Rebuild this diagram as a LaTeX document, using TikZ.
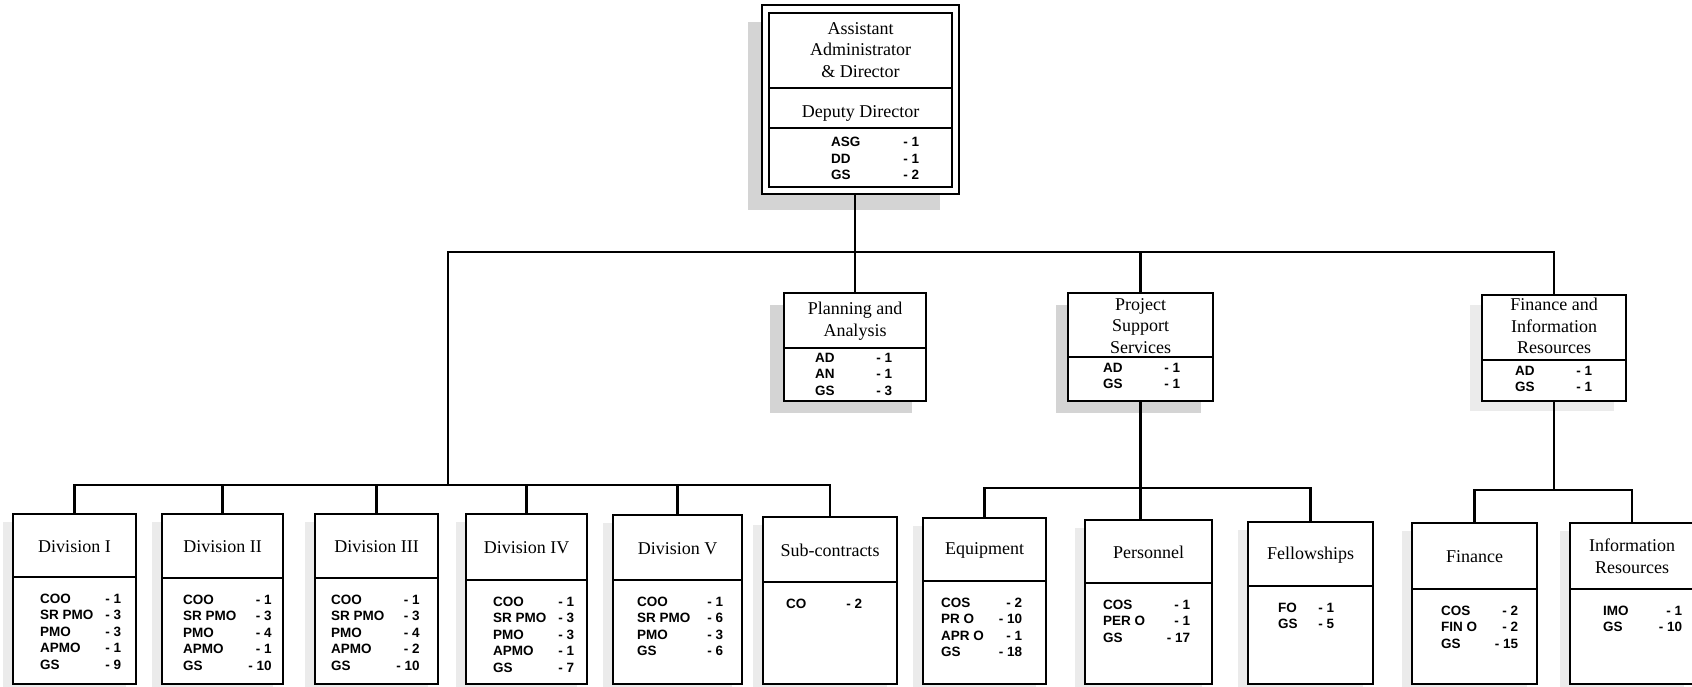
\documentclass[tikz,border=0pt]{standalone}
\usepackage{fontspec}
\setmainfont{Liberation Serif}
\newfontfamily\stafffont{Liberation Sans}
\newcommand{\stafftab}[2]{\begin{tabular*}{#1}[t]{@{\extracolsep{\fill}}lr@{}}#2\end{tabular*}}
% name x1 y1 x2 y2 dx dy shadowstyle sepy
\newcommand{\orgbox}[9]{%
  \fill[#8] ({#2+#6},{#3+#7}) rectangle ({#4+#6},{#5+#7});
  \node[box, minimum width={(#4-#2)*1pt}, minimum height={(#5-#3)*1pt}] (#1) at ({(#2+#4)/2},{(#3+#5)/2}) {};
  \draw[sepline] (#2,#9) -- (#4,#9);}
\begin{document}
\begin{tikzpicture}[x=1pt,y=-1pt,
  box/.style={draw, line width=2.6pt, fill=white, rectangle, inner sep=0pt},
  sepline/.style={line width=1.6pt},
  conn/.style={line width=2.2pt, line cap=rect},
  shadowA/.style={fill=black!17},
  shadowB/.style={fill=black!8},
  ttl/.style={font=\fontsize{18}{21.5}\selectfont, align=center, inner sep=0pt},
  stf/.style={font=\stafffont\bfseries\fontsize{13.5}{16.5}\selectfont, inner sep=0pt, anchor=base west},
]
\useasboundingbox (0,0) rectangle (1692,687);
\fill[white] (0,0) rectangle (1692,687);

% ---- top box
\fill[shadowA] (748,22) rectangle (940,210);
\node[box, minimum width=197pt, minimum height=189pt] (top) at (860.5,99.5) {};
\draw[line width=2.2pt] (769,13) rectangle (952,187);
\draw[sepline] (769,88) -- (952,88);
\draw[sepline] (769,128) -- (952,128);
\node[ttl] (toptitle) at (860.5,50) {Assistant\\Administrator\\\& Director};
\node[ttl] (deputy) at (860.5,113) {Deputy Director};
\node[stf] (topstaff) at (831,147) {\stafftab{88pt}{ASG & - 1\\ DD & - 1\\ GS & - 2}};

% ---- middle boxes
\orgbox{pa}{784}{293}{926}{401}{-14}{12}{shadowA}{348}
\orgbox{pss}{1068}{293}{1213}{401}{-12}{12}{shadowA}{357}
\orgbox{fir}{1482}{295}{1626}{401}{-12}{10}{shadowB}{360}
\node[ttl] (pat) at (855,321) {Planning and\\Analysis};
\node[ttl] (psst) at (1140.5,326) {Project\\Support\\Services};
\node[ttl] (firt) at (1554,326) {Finance and\\Information\\Resources};
\node[stf] (pas) at (815,362) {\stafftab{77pt}{AD & - 1\\ AN & - 1\\ GS & - 3}};
\node[stf] (psss) at (1103,372) {\stafftab{77pt}{AD & - 1\\ GS & - 1}};
\node[stf] (firs) at (1515,375) {\stafftab{77pt}{AD & - 1\\ GS & - 1}};

% ---- bottom boxes
\orgbox{d1}{13}{514}{136}{684}{-10}{8}{shadowB}{577}
\orgbox{d2}{162}{514}{283}{684}{-10}{8}{shadowB}{578}
\orgbox{d3}{315}{514}{438}{684}{-10}{8}{shadowB}{578}
\orgbox{d4}{466}{514}{587}{684}{-10}{8}{shadowB}{580}
\orgbox{d5}{613}{515}{742}{684}{-10}{8}{shadowB}{580}
\orgbox{sub}{763}{517}{897}{684}{-10}{8}{shadowB}{582}
\orgbox{eq}{923}{518}{1046}{684}{-10}{8}{shadowB}{581}
\orgbox{pers}{1085}{520}{1212}{684}{-10}{8}{shadowB}{583}
\orgbox{fel}{1248}{522}{1373}{684}{-10}{8}{shadowB}{586}
\orgbox{fin}{1412}{523}{1537}{684}{-10}{8}{shadowB}{589}
\orgbox{ir}{1570}{523}{1694}{684}{-10}{8}{shadowB}{589}

\node[ttl] (d1t) at (74.5,546.5) {Division I};
\node[ttl] (d2t) at (222.5,547) {Division II};
\node[ttl] (d3t) at (376.5,547) {Division III};
\node[ttl] (d4t) at (526.5,548) {Division IV};
\node[ttl] (d5t) at (677.5,548.5) {Division V};
\node[ttl] (subt) at (830,550.5) {Sub-contracts};
\node[ttl] (eqt) at (984.5,550.5) {Equipment};
\node[ttl] (perst) at (1148.5,552.5) {Personnel};
\node[ttl] (felt) at (1310.5,555) {Fellowships};
\node[ttl] (fint) at (1474.5,557) {Finance};
\node[ttl] (irt) at (1632,556) {Information\\Resources};

\node[stf] (d1s) at (40,603) {\stafftab{81pt}{COO & - 1\\ SR PMO & - 3\\ PMO & - 3\\ APMO & - 1\\ GS & - 9}};
\node[stf] (d2s) at (183,604) {\stafftab{86pt}{COO & - 1\\ SR PMO & - 3\\ PMO & - 4\\ APMO & - 1\\ GS & - 10}};
\node[stf] (d3s) at (331,604) {\stafftab{80pt}{COO & - 1\\ SR PMO & - 3\\ PMO & - 4\\ APMO & - 2\\ GS & - 10}};
\node[stf] (d4s) at (493,606) {\stafftab{80pt}{COO & - 1\\ SR PMO & - 3\\ PMO & - 3\\ APMO & - 1\\ GS & - 7}};
\node[stf] (d5s) at (637,606) {\stafftab{86pt}{COO & - 1\\ SR PMO & - 6\\ PMO & - 3\\ GS & - 6}};
\node[stf] (subs) at (786,608) {\stafftab{76pt}{CO & - 2}};
\node[stf] (eqs) at (941,607) {\stafftab{81pt}{COS & - 2\\ PR O & - 10\\ APR O & - 1\\ GS & - 18}};
\node[stf] (perss) at (1103,609) {\stafftab{87pt}{COS & - 1\\ PER O & - 1\\ GS & - 17}};
\node[stf] (fels) at (1278,612) {\stafftab{56pt}{FO & - 1\\ GS & - 5}};
\node[stf] (fins) at (1441,615) {\stafftab{77pt}{COS & - 2\\ FIN O & - 2\\ GS & - 15}};
\node[stf] (irs) at (1603,615) {\stafftab{79pt}{IMO & - 1\\ GS & - 10}};

% ---- connectors
\coordinate (tb) at (448,252);
\coordinate (lb) at (448,485);
\coordinate (rb) at (1141,488);
\coordinate (fb) at (1554,490);
\draw[conn] (pa.north) -- (pa.north |- top.south);
\draw[conn] (tb) -- (tb -| fir.north) -- (fir.north);
\draw[conn] (pss.north) -- (pss.north |- tb);
\draw[conn] (tb) -- (lb);
\draw[conn] (d1.north) -- (d1.north |- lb) -- (sub.north |- lb) -- (sub.north);
\foreach \n in {d2,d3,d4,d5} \draw[conn] (\n.north) -- (\n.north |- lb);
\draw[conn] (pss.south) -- (pss.south |- pers.north);
\draw[conn] (eq.north) -- (eq.north |- rb) -- (fel.north |- rb) -- (fel.north);
\draw[conn] (fir.south) -- (fir.south |- fb);
\draw[conn] (fin.north) -- (fin.north |- fb) -- (ir.north |- fb) -- (ir.north);
\end{tikzpicture}
\end{document}
